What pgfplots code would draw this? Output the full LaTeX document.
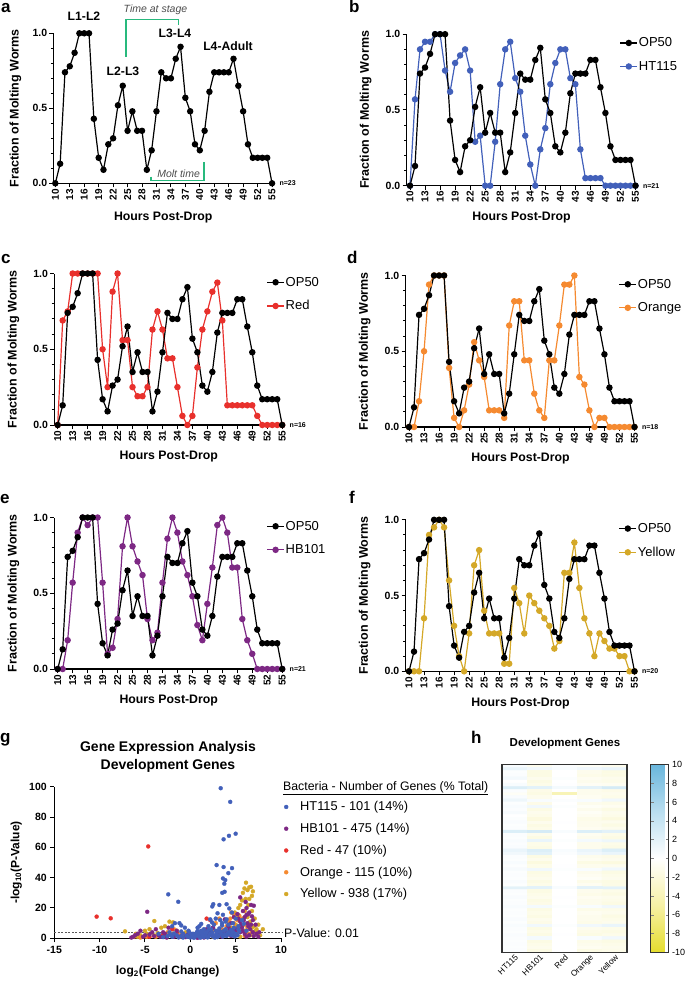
\documentclass[border=0pt]{standalone}
\usepackage{pgfplots}
\usepackage{pgfplotstable}
\pgfplotsset{compat=1.18}
\usepackage{fontspec}
\setmainfont{Liberation Sans}
\definecolor{cHT}{RGB}{66,96,186}
\definecolor{cHB}{RGB}{125,40,132}
\definecolor{cRed}{RGB}{232,48,44}
\definecolor{cOr}{RGB}{245,138,48}
\definecolor{cYe}{RGB}{212,168,40}
\definecolor{cGr}{RGB}{40,185,125}

\pgfplotstableread{
h  opa  op   ht   red  org  hb   yel
10 0    0    0    0    0    0    0
11 0.13 0.13 0.57 0.69 0    0    0
12 0.74 0.74 0.90 0.75 0.17 0.19 0
13 0.78 0.78 0.95 1.0  0.50 0.57 0.35
14 0.87 0.87 0.95 1.0  0.94 0.90 0.90
15 1    1    1.0  1.0  1.0  1.0  0.95
16 1    1    1.0  1.0  1.0  0.95 1.0
17 1    1    0.76 1.0  1.0  1.0  0.95
18 0.43 0.43 0.62 1.0  0.39 1.0  0.60
19 0.17 0.17 0.81 0.50 0.06 0.57 0.30
20 0.09 0.09 0.86 0.25 0    0.10 0.10
21 0.26 0.26 0.90 0.88 0.11 0.14 0
22 0.30 0.30 0.76 1.0  0.28 0.33 0.25
23 0.52 0.52 0.29 0.56 0.56 0.81 0.70
24 0.65 0.65 0.33 0.56 0.44 1.0  0.80
25 0.35 0.35 0    0.25 0.33 0.81 0.40
26 0.48 0.48 0    0.19 0.11 0.71 0.25
27 0.35 0.35 0.29 0.19 0.11 0.62 0.25
28 0.35 0.35 0.67 0.25 0.11 0.33 0.25
29 0.09 0.09 0.90 0.63 0.06 0.19 0.05
30 0.22 0.22 0.95 0.75 0.67 0.24 0.05
31 0.48 0.48 0.71 0.63 0.83 0.57 0.55
32 0.74 0.74 0.62 0.44 0.83 0.86 0.45
33 0.70 0.70 0.33 0.44 0.44 1.0  0.25
34 0.70 0.70 0.14 0.25 0.44 0.90 0.50
35 0.83 0.83 0    0.06 0.22 0.71 0.45
36 0.91 0.91 0.24 0    0.11 0.62 0.40
37 0.57 0.57 0.38 0.06 0.06 0.48 0.35
38 0.48 0.48 0.67 0.38 0.44 0.29 0.30
39 0.26 0.26 0.81 0.63 0.44 0.19 0.15
40 0.22 0.22 0.90 0.75 0.67 0.43 0.20
41 0.35 0.35 0.90 0.88 0.94 0.67 0.65
42 0.61 0.61 0.71 0.94 0.94 0.95 0.65
43 0.74 0.74 0.67 0.69 1.0  1.0  0.85
44 0.74 0.74 0.24 0.13 0.33 0.90 0.55
45 0.74 0.74 0.05 0.13 0.28 0.67 0.35
46 0.74 0.83 0.05 0.13 0.11 0.67 0.25
47 0.83 0.83 0.05 0.13 0    0.33 0.10
48 0.65 0.65 0.05 0.13 0.06 0.19 0.25
49 0.48 0.48 0    0.13 0.06 0.10 0.20
50 0.26 0.26 0    0.06 0    0    0.15
51 0.17 0.17 0    0    0    0    0.15
52 0.17 0.17 0    0    0    0    0.10
53 0.17 0.17 0    0    0    0    0.10
54 0.17 0.17 0    0    0    0    0
55 0    0    0    0    0    0    0
}\molt

\pgfplotsset{
  /pgf/number format/assume math mode=true,
  molt/.style={
    scale only axis, width=230pt, height=151.5pt,
    xmin=9.3, xmax=55.2, ymin=0, ymax=1,
    axis lines*=left,
    axis line style={line width=1.2pt},
    xtick={10,13,...,55},
    ytick={0,0.5,1}, yticklabels={0.0,0.5,1.0},
    minor ytick={0.1,0.2,0.3,0.4,0.6,0.7,0.8,0.9},
    tick align=outside, major tick length=4pt, minor tick length=2.5pt,
    every tick/.style={black, line width=1pt},
    xticklabel style={rotate=90, anchor=east, inner sep=1.5pt, font=\bfseries\fontsize{10}{10}\selectfont},
    yticklabel style={inner sep=2pt, font=\bfseries\fontsize{10.5}{10.5}\selectfont},
    xlabel={Hours Post-Drop}, ylabel={Fraction of Molting Worms},
    every axis x label/.style={at={(axis description cs:0.5,0)}, anchor=center, yshift=-32pt, font=\bfseries\fontsize{12.3}{12.3}\selectfont},
    every axis y label/.style={at={(axis description cs:-0.178,0.5)}, rotate=90, anchor=center, font=\bfseries\fontsize{12.5}{12.5}\selectfont},
    clip=false,
    legend style={draw=none, fill=none, at={(axis description cs:0.926,0.985)}, anchor=north west,
      font=\fontsize{13}{13}\selectfont, row sep=11pt, inner sep=0pt, nodes={inner sep=1pt}},
    legend cell align=left, reverse legend,
  },
  op/.style={black, line width=1.2pt, mark=*, mark size=2.6pt, mark options={solid}},
  ser/.style={#1, line width=1.2pt, mark=*, mark size=2.6pt, mark options={solid}},
  vol/.style={only marks, color=#1, mark=*, mark size=2pt, mark options={solid, fill=#1, draw=#1, line width=0.3pt},
    legend image code/.code={\path[draw=none,fill=none] (0pt,0pt) -- (18pt,0pt); \draw[mark repeat=2,mark phase=2,##1] plot coordinates {(0pt,0pt) (5pt,0pt) (16pt,0pt)};}},
}

\begin{document}
\begin{tikzpicture}
\path[use as bounding box] (0pt,0pt) rectangle (685pt,-987pt);

% ---------- a ----------
\begin{axis}[molt, at={(53.4pt,-183.3pt)}, anchor=south west, width=219.6pt, height=150pt, xmin=9.6,
  every axis y label/.append style={at={(axis description cs:-0.173,0.5)}},
  every axis x label/.append style={yshift=-2pt}]
\addplot[op] table[x=h,y=opa]{\molt};
\node[anchor=west,font=\bfseries\fontsize{7}{7}\selectfont] at (axis cs:55.2,0) {\hspace{3pt}n=23};
\end{axis}

% ---------- b ----------
\begin{axis}[molt, at={(406.5pt,-185.7pt)}, anchor=south west]
\addplot[ser=cHT] table[x=h,y=ht]{\molt}; \addlegendentry{HT115}
\addplot[op] table[x=h,y=op]{\molt}; \addlegendentry{OP50}
\node[anchor=west,font=\bfseries\fontsize{7}{7}\selectfont] at (axis cs:55.2,0) {\hspace{3pt}n=21};
\end{axis}

% ---------- c ----------
\begin{axis}[molt, at={(54.2pt,-425pt)}, anchor=south west, width=229pt]
\addplot[ser=cRed] table[x=h,y=red]{\molt}; \addlegendentry{Red}
\addplot[op] table[x=h,y=op]{\molt}; \addlegendentry{OP50}
\node[anchor=west,font=\bfseries\fontsize{7}{7}\selectfont] at (axis cs:55.2,0) {\hspace{3pt}n=16};
\end{axis}

% ---------- d ----------
\begin{axis}[molt, at={(405.5pt,-427pt)}, anchor=south west]
\addplot[ser=cOr] table[x=h,y=org]{\molt}; \addlegendentry{Orange}
\addplot[op] table[x=h,y=op]{\molt}; \addlegendentry{OP50}
\node[anchor=west,font=\bfseries\fontsize{7}{7}\selectfont] at (axis cs:55.2,0) {\hspace{3pt}n=18};
\end{axis}

% ---------- e ----------
\begin{axis}[molt, at={(54.2pt,-669pt)}, anchor=south west, width=229pt]
\addplot[ser=cHB] table[x=h,y=hb]{\molt}; \addlegendentry{HB101}
\addplot[op] table[x=h,y=op]{\molt}; \addlegendentry{OP50}
\node[anchor=west,font=\bfseries\fontsize{7}{7}\selectfont] at (axis cs:55.2,0) {\hspace{3pt}n=21};
\end{axis}

% ---------- f ----------
\begin{axis}[molt, at={(405.5pt,-671.3pt)}, anchor=south west]
\addplot[ser=cYe] table[x=h,y=yel]{\molt}; \addlegendentry{Yellow}
\addplot[op] table[x=h,y=op]{\molt}; \addlegendentry{OP50}
\node[anchor=west,font=\bfseries\fontsize{7}{7}\selectfont] at (axis cs:55.2,0) {\hspace{3pt}n=20};
\end{axis}

% ---------- g ----------
\begin{axis}[at={(54.3pt,-938.3pt)}, anchor=south west, scale only axis, width=226.7pt, height=151.6pt,
  xmin=-15, xmax=10, ymin=0, ymax=100, axis lines*=left, axis line style={line width=1.2pt},
  xtick={-15,-10,...,10}, xticklabels={-15,-10,-5,0,5,10}, ytick={0,20,...,100},
  yticklabels={0,20,40,60,80,100},
  tick align=outside, major tick length=4pt, every tick/.style={black,line width=1pt},
  ticklabel style={font=\bfseries\fontsize{10.5}{10.5}\selectfont},
  xlabel={log\textsubscript{2}(Fold Change)}, ylabel={-log\textsubscript{10}(P-Value)},
  every axis x label/.style={at={(axis description cs:0.5,0)},anchor=center,yshift=-33pt,font=\bfseries\fontsize{12}{12}\selectfont},
  every axis y label/.style={at={(axis description cs:-0.168,0.5)},rotate=90,anchor=center,font=\bfseries\fontsize{12}{12}\selectfont},
  clip=false,
  legend style={draw=none, fill=none, at={(axis description cs:1.0,0.91)}, anchor=north west,
    font=\fontsize{12.8}{12.8}\selectfont, row sep=9pt, inner sep=0pt, nodes={inner sep=1pt}},
  legend cell align=left, reverse legend]
\addplot[gray!70!black, dash pattern=on 2pt off 1.5pt, line width=0.9pt, forget plot] coordinates {(-15,3.6) (10.2,3.6)};
\addplot[vol=cYe] coordinates {
(6.14,36.7) (6.5,33.6) (5.97,32.9) (6.3,31.8) (6.7,34) (6.9,31) (5.8,30) (6.1,26) (5.5,22) (5.3,20)
(6.0,18) (7.1,13) (7.5,9) (8.0,6) (7.2,5) (-7.2,4.6) (-3.97,11.4) (-2.3,11) (-1.9,10.5) (-2.8,8)
(-4.5,6) (-5.0,5) (-3.2,7) (-1.5,5) (-6,3) (-5.5,2) (-4,2) (-3,2.5) (-2,3) (-1,2) (0,1.5) (1,2)
(2,2.5) (3,3.5) (4,4) (4.5,7) (5,9) (5.5,12) (5.1,15) (4.9,17) (6.6,11) (6.3,14) (7.0,8) (6,5)
(5,3) (3.5,1.5) (-0.5,4) (2.5,1) (6.8,18) (6.4,22) (5.7,25) (7.4,3) (6.6,2)
(5.2,6) (5.7,8) (6.2,9) (6.8,7) (7.3,6) (7.7,2) (4.6,2.5) (5.5,1) (-2.6,2) (-3.6,3.5) (-4.8,3)
(-5.8,1) (6.5,26) (6.8,28)};
\addlegendentry{Yellow - 938 (17\%)}
\addplot[vol=cOr] coordinates {
(4.5,17) (5.4,15) (4.8,10) (5.9,18) (5.2,12) (6.0,9) (4.0,8) (3.5,6) (5.6,6) (2.8,10) (3.2,13)
(4.4,13) (6.3,7) (-2.5,4) (-1.8,6) (-3.8,1) (-4.8,1) (-1,3) (0,1) (1,2) (2,1.5) (3,2) (4,3) (5,2)
(6,1.5) (6.8,4) (-0.5,2) (1.5,4) (2.5,5) (-6.2,1) (-5.5,0.5)
(5.0,7) (4.2,11) (5.7,13) (3.8,4) (6.4,3) (-1.2,1) (4.8,16)};
\addlegendentry{Orange - 115 (10\%)}
\addplot[vol=cRed] coordinates {
(-4.64,60.6) (-10.33,14.3) (-8.78,13.2) (1.8,13) (2.2,12) (-2.0,6) (-1.5,3) (-3,2) (0.5,2) (1,1.5)
(2,4) (3,3) (4,2) (-4.5,1) (5,5) (2.5,7) (-0.5,1) (1.5,3)};
\addlegendentry{Red - 47 (10\%)}
\addplot[vol=cHB] coordinates {
(-4.75,17.5) (5.5,27) (6.7,22) (7.0,21.5) (6.2,20) (5.8,18) (6.5,17) (5.2,16) (4.8,14) (6.0,14)
(6.9,12) (7.2,9) (4.5,10) (5.5,11) (6.3,10) (3.8,12.5) (4.2,8) (2.5,7) (1.8,6) (3.2,5) (-1.5,5)
(-2.4,7) (-3,4) (-3.5,2) (-4,1.5) (-4.5,2.5) (-5.2,1) (-5.8,3) (-6.3,1) (-6.5,0.5) (-2,2) (-1,1.5)
(-0.5,0.8) (0.5,1) (1,2) (1.5,0.5) (2,3) (2.5,1.5) (3,2) (3.5,1) (4,3) (4.5,1.5) (5,2.5) (5.5,4)
(6,3) (6.5,2) (7,1.5) (7.3,3) (7.6,4) (5,6) (5.7,7) (6.6,6) (4.6,5) (3.8,4) (-3.8,6) (-2.8,3)
(-5.5,5) (-4.2,4) (0,3) (-0.3,2.5) (6.8,14.5) (6.1,24) (6.4,16)
(5.6,9) (5.9,12) (6.2,15.5) (6.7,9) (5.3,13) (4.3,6) (6.9,4) (7.5,1) (6.2,1) (4.9,4) (3.4,3.5)
(2.2,4.5) (-1.8,1) (-2.6,0.5) (-3.3,1) (-5.0,2) (-6.1,2) (0.8,0.3) (5.8,4.8) (6.4,8)};
\addlegendentry{HB101 - 475 (14\%)}
\addplot[vol=cHT] coordinates {
(3.35,99) (4.4,90) (5.0,69) (4.26,67.6) (3.67,65.3) (2.9,48.3) (3.67,47) (4.6,46.3) (4.19,43)
(3.6,39.5) (3.85,38.4) (3.75,36) (3.52,30) (3.78,30.7) (-2.43,29) (-1.33,24.1) (2.53,22.5)
(2.42,21) (3.2,22) (4.0,22.5) (4.3,19.7) (4.6,17) (3.0,16.5) (3.6,15.5) (2.8,13) (2.2,12.5)
(3.3,12) (4.0,12.5) (5.0,13) (5.7,12) (5.9,9.5) (1.2,9.5) (0.8,7) (-0.6,7) (-1.0,8.5) (-1.7,10)
(-2.0,8) (-1.2,10) (-0.2,5) (1.5,6) (2.0,8) (2.6,9) (3.5,8.5) (4.2,9) (4.8,7) (5.3,6) (6.2,5)
(0.3,3) (0.6,2) (1.0,3.5) (1.4,2) (1.8,4) (2.2,3) (2.6,2) (3.0,4.5) (3.4,3) (3.8,2.5) (4.2,4)
(4.6,2) (5.0,3) (-0.3,1) (0,0.5) (0.5,1) (1,1) (1.5,0.8) (2,1) (2.5,1.2) (3,0.8) (-1,1.5)
(-1.5,2) (-2,1) (-2.5,1.5) (-3,0.8) (-0.8,3) (0.2,1.5) (1.2,5) (2.3,6) (2.8,5) (3.2,6.5) (3.9,6) (4.5,5.5)
(-0.8,0.5) (-0.4,1.8) (0.1,2.5) (0.4,0.3) (0.7,3.8) (0.9,1.8) (1.1,0.4) (1.3,2.7) (1.6,1.5)
(1.7,3.2) (1.9,0.6) (2.1,2.1) (2.4,3.8) (2.7,0.5) (2.9,2.8) (3.1,1.5) (3.3,4.2) (3.6,1.2) (3.7,5)
(4.0,1.5) (4.1,3.2) (4.4,2.6) (4.7,4.2) (4.9,1.2) (5.2,2) (5.4,4.5) (-1.3,0.6) (-1.8,3.2)
(-2.2,2.2) (-0.1,3.8) (0.8,4.8) (1.4,4.2) (2.0,5.5) (3.5,10) (2.4,10.5) (3.9,11) (4.7,10) (5.3,8)
(1.0,8) (-2.3,4) (-3.5,3) (-1.0,4.5)};
\addlegendentry{HT115 - 101 (14\%)}
\end{axis}

% ---------- h ----------
\begin{axis}[at={(502pt,-952.3pt)}, anchor=south west, scale only axis, width=125pt, height=188pt,
  enlargelimits=false, xmin=-0.5, xmax=4.5, ymin=-0.5, ymax=59.5, y dir=reverse,
  xtick={0,...,4}, xticklabels={HT115,HB101,Red,Orange,Yellow},
  xticklabel style={rotate=45, anchor=north east, font=\fontsize{8.3}{8.3}\selectfont, inner sep=1pt},
  ytick=\empty, xtick style={draw=none},
  axis line style={line width=1.3pt, black!80}, axis on top,
  colormap={yb}{rgb255(0cm)=(229,221,45); rgb255(1cm)=(246,241,165); rgb255(2cm)=(255,255,255); rgb255(3cm)=(185,222,240); rgb255(4cm)=(105,182,220)},
  point meta min=-10, point meta max=10,
  colorbar,
  colorbar style={at={(parent axis.north east)}, anchor=north west, xshift=15pt, width=18pt,
    ytick={-10,-8,...,10}, yticklabel style={font=\fontsize{9}{9}\selectfont},
    axis line style={line width=1pt, black!80}, major tick length=3pt}]
\addplot[matrix plot*, mesh/cols=5, point meta=explicit] coordinates {
(0,0)[0.5] (1,0)[-1] (2,0)[0.3] (3,0)[-0.5] (4,0)[-1]
(0,1)[1.5] (1,1)[1] (2,1)[0.5] (3,1)[1] (4,1)[1.5]
(0,2)[0.2] (1,2)[-1.5] (2,2)[0] (3,2)[-1] (4,2)[-1.5]
(0,3)[0.3] (1,3)[-1.5] (2,3)[0] (3,3)[-1.2] (4,3)[-1.5]
(0,4)[0.8] (1,4)[-1] (2,4)[0.2] (3,4)[-0.8] (4,4)[-1]
(0,5)[0] (1,5)[-1.5] (2,5)[0] (3,5)[-1] (4,5)[-1.2]
(0,6)[0.5] (1,6)[-1.2] (2,6)[0.1] (3,6)[-0.6] (4,6)[-0.8]
(0,7)[2.5] (1,7)[2] (2,7)[0.8] (3,7)[2] (4,7)[3]
(0,8)[0.3] (1,8)[-1.3] (2,8)[0] (3,8)[-1] (4,8)[-1.3]
(0,9)[-0.5] (1,9)[-1.5] (2,9)[-4] (3,9)[-1] (4,9)[-1]
(0,10)[0.4] (1,10)[-1] (2,10)[0] (3,10)[-0.8] (4,10)[-1.2]
(0,11)[1.2] (1,11)[0.5] (2,11)[0.3] (3,11)[0.5] (4,11)[1]
(0,12)[0.2] (1,12)[-1.3] (2,12)[0] (3,12)[-1] (4,12)[-1.2]
(0,13)[0.5] (1,13)[1] (2,13)[0.2] (3,13)[-0.5] (4,13)[-0.8]
(0,14)[0.3] (1,14)[-1.5] (2,14)[0] (3,14)[-1] (4,14)[-1.5]
(0,15)[0.6] (1,15)[-1] (2,15)[0] (3,15)[-0.5] (4,15)[-1]
(0,16)[0] (1,16)[-1.2] (2,16)[0] (3,16)[-0.8] (4,16)[-1.2]
(0,17)[0.2] (1,17)[-1.8] (2,17)[0] (3,17)[-1.2] (4,17)[-1.8]
(0,18)[0.4] (1,18)[-1] (2,18)[0.1] (3,18)[-1] (4,18)[-1]
(0,19)[0.2] (1,19)[-1.5] (2,19)[0] (3,19)[-1] (4,19)[-1.5]
(0,20)[0.3] (1,20)[-1.2] (2,20)[0] (3,20)[-0.8] (4,20)[-1]
(0,21)[2.5] (1,21)[3] (2,21)[0.5] (3,21)[2.5] (4,21)[2]
(0,22)[0.3] (1,22)[-1] (2,22)[0] (3,22)[-0.8] (4,22)[-1.2]
(0,23)[0.2] (1,23)[-1.5] (2,23)[0] (3,23)[-1] (4,23)[-1.5]
(0,24)[0.5] (1,24)[1.5] (2,24)[0.2] (3,24)[0.8] (4,24)[1.2]
(0,25)[0.3] (1,25)[-1.2] (2,25)[0] (3,25)[-1] (4,25)[-1.2]
(0,26)[0.4] (1,26)[-1.4] (2,26)[0] (3,26)[-1] (4,26)[-1.4]
(0,27)[1.5] (1,27)[2.5] (2,27)[0.5] (3,27)[1.5] (4,27)[2.5]
(0,28)[1] (1,28)[2] (2,28)[0.3] (3,28)[1] (4,28)[1.5]
(0,29)[0.3] (1,29)[-1.5] (2,29)[0] (3,29)[-1] (4,29)[-1.3]
(0,30)[0.2] (1,30)[-1] (2,30)[0] (3,30)[-0.8] (4,30)[-1]
(0,31)[0.5] (1,31)[-1.8] (2,31)[0] (3,31)[-1.5] (4,31)[-1.8]
(0,32)[0.2] (1,32)[-1.2] (2,32)[0.1] (3,32)[-1] (4,32)[-1]
(0,33)[0.6] (1,33)[1] (2,33)[0.2] (3,33)[0.5] (4,33)[1]
(0,34)[0.2] (1,34)[-1.5] (2,34)[0] (3,34)[-1] (4,34)[-1.5]
(0,35)[0.3] (1,35)[-1.3] (2,35)[0] (3,35)[-0.8] (4,35)[-1.2]
(0,36)[0.2] (1,36)[-1] (2,36)[0] (3,36)[-0.5] (4,36)[-1]
(0,37)[0.4] (1,37)[-1.5] (2,37)[0] (3,37)[-1.2] (4,37)[-1.5]
(0,38)[0.2] (1,38)[-1.2] (2,38)[0] (3,38)[-0.8] (4,38)[-1.4]
(0,39)[2] (1,39)[2] (2,39)[0.5] (3,39)[2] (4,39)[2]
(0,40)[0.3] (1,40)[-1.5] (2,40)[0] (3,40)[-1] (4,40)[-1.2]
(0,41)[0.2] (1,41)[-1.2] (2,41)[0] (3,41)[-1.2] (4,41)[-1.5]
(0,42)[0.4] (1,42)[-1] (2,42)[0.1] (3,42)[-0.8] (4,42)[-1]
(0,43)[0.2] (1,43)[-1.5] (2,43)[0] (3,43)[-1] (4,43)[-1.2]
(0,44)[0.3] (1,44)[-1.3] (2,44)[0] (3,44)[-1] (4,44)[-1.5]
(0,45)[0.5] (1,45)[0.8] (2,45)[0.2] (3,45)[0.5] (4,45)[1]
(0,46)[0.2] (1,46)[-1.5] (2,46)[0] (3,46)[-1.2] (4,46)[-1.2]
(0,47)[0.3] (1,47)[-1.2] (2,47)[0] (3,47)[-0.8] (4,47)[-1]
(0,48)[0.2] (1,48)[-1.5] (2,48)[0] (3,48)[-1] (4,48)[-1.5]
(0,49)[0.4] (1,49)[-1] (2,49)[0] (3,49)[-1] (4,49)[-1.2]
(0,50)[0.2] (1,50)[-1.3] (2,50)[0] (3,50)[-1.2] (4,50)[-1]
(0,51)[0.5] (1,51)[1] (2,51)[0.2] (3,51)[1] (4,51)[1.5]
(0,52)[0.3] (1,52)[-1.5] (2,52)[0] (3,52)[-1] (4,52)[-1.2]
(0,53)[0.2] (1,53)[-1.2] (2,53)[0] (3,53)[-1.3] (4,53)[-1.5]
(0,54)[0.4] (1,54)[-1.5] (2,54)[0.1] (3,54)[-1.5] (4,54)[-1.2]
(0,55)[0.3] (1,55)[0.8] (2,55)[0] (3,55)[0.5] (4,55)[1]
(0,56)[0.2] (1,56)[-1.5] (2,56)[0] (3,56)[-1.2] (4,56)[-1.5]
(0,57)[0.3] (1,57)[-1.2] (2,57)[0] (3,57)[-1] (4,57)[-1.2]
(0,58)[0.2] (1,58)[-1] (2,58)[0] (3,58)[-0.8] (4,58)[-1]
(0,59)[0.3] (1,59)[-1.5] (2,59)[0] (3,59)[-1.5] (4,59)[-1.2]
};
\end{axis}

% ---------- texts ----------
\begin{scope}[every node/.style={font=\bfseries\fontsize{17}{17}\selectfont, anchor=base west, inner sep=0pt}]
\node at (1pt,-13pt) {a};
\node at (349pt,-13pt) {b};
\node at (1pt,-263pt) {c};
\node at (347pt,-263pt) {d};
\node at (0pt,-503pt) {e};
\node at (349pt,-503pt) {f};
\node at (0pt,-742pt) {g};
\node at (471pt,-743pt) {h};
\end{scope}

\begin{scope}[every node/.style={font=\bfseries\fontsize{12.2}{12.2}\selectfont, anchor=center, inner sep=0pt}]
\node at (84pt,-16pt) {L1-L2};
\node at (123pt,-71.5pt) {L2-L3};
\node at (175pt,-33.5pt) {L3-L4};
\node at (228pt,-46pt) {L4-Adult};
\end{scope}
\node[font=\itshape\fontsize{10.5}{10.5}\selectfont, text=black!70, inner sep=0pt] at (155.5pt,-9.5pt) {Time at stage};
\node[font=\itshape\fontsize{10.5}{10.5}\selectfont, text=black!70, inner sep=0pt] at (178.6pt,-173.5pt) {Molt time};
\draw[cGr, line width=1.2pt] (126pt,-57pt) -- (126pt,-19.5pt) -- (178.3pt,-19.5pt) -- (178.3pt,-25pt);
\draw[cGr, line width=1.2pt] (151pt,-176.7pt) -- (151pt,-180.3pt) -- (204pt,-180.3pt) -- (204pt,-162.3pt);

\node[font=\bfseries\fontsize{14}{18}\selectfont, align=center, inner sep=0pt] at (168pt,-757pt) {Gene Expression Analysis\\Development Genes};
\node[font=\fontsize{12.3}{12.3}\selectfont, anchor=west, inner sep=0pt] at (283pt,-788pt) {\underline{Bacteria - Number of Genes (\% Total)}};
\node[font=\fontsize{12.3}{12.3}\selectfont, anchor=west, inner sep=0pt] at (284pt,-933pt) {P-Value: 0.01};
\node[font=\bfseries\fontsize{11.5}{11.5}\selectfont, inner sep=0pt] at (565pt,-744pt) {Development Genes};
\end{tikzpicture}
\end{document}
